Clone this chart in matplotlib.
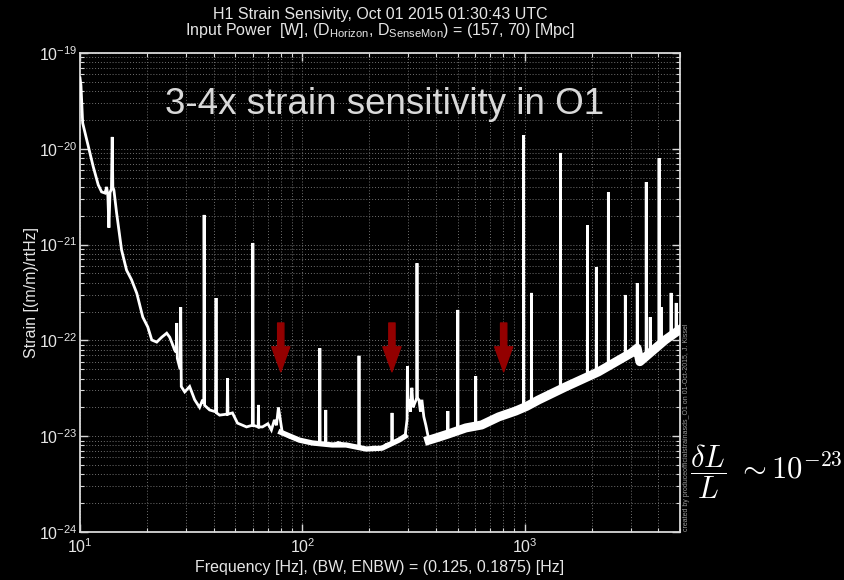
import matplotlib
matplotlib.use("Agg")
import matplotlib.pyplot as plt
from matplotlib.ticker import LogLocator, LogFormatterSciNotation, NullFormatter

plt.rcParams['font.family'] = ['Liberation Sans', 'DejaVu Sans']
plt.rcParams['mathtext.fontset'] = 'custom'
plt.rcParams['mathtext.rm'] = 'Liberation Sans'
plt.rcParams['mathtext.it'] = 'Liberation Sans:italic'
plt.rcParams['mathtext.bf'] = 'Liberation Sans:bold'

# ---------------- data ----------------
freq = [10.0, 10.1, 10.28, 10.72, 11.47, 12.08, 12.51, 12.95, 13.18, 13.35, 13.49,
        13.65, 13.85, 13.96, 14.05, 14.21, 14.61, 15.38, 16.2, 17.05, 18.01, 19.16,
        20.18, 21.03, 22.14, 23.32, 24.55, 25.32, 26.12, 26.67, 27.1, 27.23, 27.4,
        28.2, 28.38, 28.55, 29.58, 31.13, 32.8, 34.51, 35.6, 36.05, 36.17, 36.35,
        38.28, 40.7, 40.93, 41.15, 42.45, 45.9, 46.1, 46.3, 48.5, 51.1, 56.1,
        59.6, 59.9, 60.2, 63.3, 63.5, 63.7, 66.2, 70.0, 72.6, 74.9, 76.5, 78.1,
        81.3, 87.4, 97.0, 110.9, 119.5, 119.9, 120.3, 127.2, 127.5, 127.8, 136.3,
        145.0, 157.4, 179.6, 179.9, 180.3, 193.6, 210.0, 228.4, 238.0, 252.8,
        253.3, 253.8, 272.0, 290.0, 296.0, 297.0, 299.0, 302.0, 306.0, 311.0,
        315.0, 320.0, 327.5, 328.0, 328.8, 334.7, 340.0, 345.0, 352.0, 359.6,
        371.0, 400.0, 451.0, 451.6, 452.2, 499.0, 500.6, 502.0, 543.8, 601.5,
        602.6, 603.7, 641.0, 764.0, 911.0, 988.0, 990.0, 992.0, 1021.0, 1072.0,
        1074.0, 1076.0, 1155.0, 1447.0, 1450.0, 1453.0, 1527.0, 1914.0, 1917.0,
        1920.0, 2099.0, 2102.0, 2105.0, 2148.0, 2377.0, 2381.0, 2385.0, 2834.0,
        2838.0, 2842.0, 3020.0, 3207.0, 3212.0, 3217.0, 3300.0, 3520.0, 3525.0,
        3530.0, 3668.0, 3673.0, 3678.0, 4020.0, 4027.0, 4034.0, 4105.0, 4111.0,
        4117.0, 4285.0, 4555.0, 4560.0, 4565.0, 4800.0, 4807.0, 4814.0, 5000.0]
strain = [5.5e-20, 4.6e-20, 1.86e-20, 1.24e-20, 6.5e-21, 4.2e-21, 3.55e-21, 3.45e-21, 4.0e-21, 3.2e-21, 1.5e-21,
          3.5e-21, 3.8e-21, 1.33e-20, 4.0e-21, 3.7e-21, 2.14e-21, 8.8e-22, 5.4e-22, 4.3e-22, 3.1e-22, 1.75e-22,
          1.38e-22, 1.01e-22, 9.6e-23, 1.08e-22, 1.19e-22, 1.08e-22, 9.0e-23, 7.9e-23, 7.5e-23, 1.52e-22, 6.5e-23,
          5.0e-23, 2.23e-22, 3.3e-23, 2.9e-23, 3.3e-23, 2.4e-23, 2.0e-23, 2.4e-23, 2.2e-23, 2.04e-21, 2.1e-23,
          1.88e-23, 1.8e-23, 2.77e-22, 1.75e-23, 1.66e-23, 1.7e-23, 4.05e-23, 1.7e-23, 1.75e-23, 1.37e-23, 1.25e-23,
          1.3e-23, 1.04e-21, 1.3e-23, 1.25e-23, 2.12e-23, 1.25e-23, 1.25e-23, 1.35e-23, 1.16e-23, 1.48e-23, 1.3e-23, 2.0e-23,
          1.08e-23, 9.8e-24, 9.1e-24, 8.5e-24, 8.4e-24, 8.3e-23, 8.4e-24, 8.3e-24, 1.88e-23, 8.3e-24, 8.1e-24,
          8.6e-24, 8.1e-24, 7.8e-24, 6.9e-23, 7.8e-24, 7.35e-24, 7.7e-24, 7.5e-24, 8.2e-24, 8.5e-24,
          1.75e-23, 8.5e-24, 9.1e-24, 1.0e-23, 1.5e-23, 5.4e-23, 2.2e-23, 2.4e-23, 1.8e-23, 3.2e-23,
          2.0e-23, 2.2e-23, 2.5e-23, 6.4e-22, 2.5e-23, 2.4e-23, 1.8e-23, 2.4e-23, 1.6e-23, 1.3e-23,
          9.1e-24, 9.6e-24, 1.05e-23, 1.83e-23, 1.05e-23, 1.15e-23, 2.08e-22, 1.15e-23, 1.22e-23, 1.28e-23,
          4.25e-23, 1.28e-23, 1.31e-23, 1.59e-23, 1.83e-23, 1.95e-23, 1.39e-20, 1.95e-23, 2.05e-23, 2.15e-23,
          3.13e-22, 2.15e-23, 2.39e-23, 3.0e-23, 9.05e-21, 3.0e-23, 3.27e-23, 4.1e-23, 1.6e-21,
          4.1e-23, 4.6e-23, 5.84e-22, 4.6e-23, 4.7e-23, 5.3e-23, 3.54e-21, 5.3e-23, 6.6e-23,
          2.98e-22, 6.6e-23, 7.4e-23, 8.3e-23, 3.97e-22, 8.3e-23, 6.0e-23, 6.8e-23, 4.5e-21,
          6.8e-23, 7.3e-23, 1.75e-22, 7.3e-23, 8.6e-23, 8.0e-21, 8.6e-23, 8.9e-23, 2.23e-22,
          8.9e-23, 1.01e-22, 1.08e-22, 3.13e-22, 1.08e-22, 1.15e-22, 2.46e-22, 1.15e-22, 1.3e-22]

# smooth noise floor (no lines) used to draw the thick noisy band
floor_low_freq = [80.0, 97.0, 110.9, 136.3, 157.4, 193.6, 228.4, 272.0, 290.0]
floor_low_strain = [1.1e-23, 9.1e-24, 8.5e-24, 8.1e-24, 8.1e-24, 7.35e-24, 7.5e-24, 9.1e-24, 1.0e-23]
floor_high_freq = [371.0, 400.0, 451.0, 543.8, 641.0, 764.0, 911.0, 1021.0, 1155.0,
                   1527.0, 2148.0, 3020.0, 3207.0, 3300.0, 4285.0, 5000.0]
floor_high_strain = [9.1e-24, 9.6e-24, 1.05e-23, 1.22e-23, 1.31e-23, 1.59e-23, 1.83e-23, 2.05e-23, 2.39e-23,
                     3.27e-23, 4.7e-23, 7.4e-23, 8.3e-23, 6.0e-23, 1.01e-22, 1.3e-22]

arrow_freq = [80.0, 253.0, 805.0]
arrow_top = 1.52e-22
arrow_tip = 4.7e-23

title_lines = ["H1 Strain Sensivity, Oct 01 2015 01:30:43 UTC",
               r"Input Power  [W], (D$_{\rm Horizon}$, D$_{\rm SenseMon}$) = (157, 70) [Mpc]"]
xlabel = "Frequency [Hz], (BW, ENBW) = (0.125, 0.1875) [Hz]"
ylabel = "Strain [(m/m)/rtHz]"
headline = "3-4x strain sensitivity in O1"
credit = "created by produceofficialstrainasds_O1 on 01-Oct-2015, J. Kissel"
formula = r"$\dfrac{\delta L}{L}\ \sim 10^{-23}$"

# ---------------- figure ----------------
W, H = 844, 580
fig = plt.figure(figsize=(W / 100, H / 100), dpi=100, facecolor='black')
ax = fig.add_axes([80 / W, (H - 532) / H, 600 / W, 479 / H], facecolor='black')

ax.set_xscale('log')
ax.set_yscale('log')
ax.set_xlim(10, 5000)
ax.set_ylim(1e-24, 1e-19)

grid_col = '#707070'
ax.grid(True, which='both', color=grid_col, linestyle=(0, (1, 2)), linewidth=0.7)
ax.set_axisbelow(True)

ax.plot(freq, strain, color='white', lw=2.0, solid_joinstyle='miter', zorder=3)
ax.plot(floor_low_freq, floor_low_strain, color='white', lw=3.8, zorder=3)
ax.plot(floor_high_freq, floor_high_strain, color='white', lw=6.5, zorder=3)

for f in arrow_freq:
    ax.annotate('', xy=(f, arrow_tip), xytext=(f, arrow_top),
                arrowprops=dict(arrowstyle='simple,head_width=1.3,head_length=1.8,tail_width=0.45',
                                color='#930000', shrinkA=0, shrinkB=0, mutation_scale=10),
                zorder=4)

for side in ['left', 'right', 'top', 'bottom']:
    ax.spines[side].set_color('#d8d8d8')
    ax.spines[side].set_linewidth(1.3)

ax.xaxis.set_major_locator(LogLocator(base=10, numticks=10))
ax.xaxis.set_minor_locator(LogLocator(base=10, subs=range(2, 10), numticks=20))
ax.yaxis.set_major_locator(LogLocator(base=10, numticks=10))
ax.yaxis.set_minor_locator(LogLocator(base=10, subs=range(2, 10), numticks=20))
ax.xaxis.set_major_formatter(LogFormatterSciNotation())
ax.yaxis.set_major_formatter(LogFormatterSciNotation())
ax.xaxis.set_minor_formatter(NullFormatter())
ax.yaxis.set_minor_formatter(NullFormatter())
ax.tick_params(which='both', direction='in', top=True, right=True, colors='#d8d8d8',
               labelcolor='#e6e6e6')
ax.tick_params(which='major', length=6, width=1, labelsize=11.5, pad=4)
ax.tick_params(which='minor', length=3, width=0.8)
ax.tick_params(axis='y', which='major', pad=2)

ax.set_title(title_lines[0] + "\n" + title_lines[1], color='#e6e6e6', fontsize=11.5,
             pad=13, linespacing=0.95)
ax.set_xlabel(xlabel, color='#e6e6e6', fontsize=11.5, labelpad=3)
ax.set_ylabel(ylabel, color='#e6e6e6', fontsize=11.5, labelpad=0)

ax.text(0.507, 0.893, headline, transform=ax.transAxes, ha='center', va='center',
        fontsize=26.5, color='#d9d9d9', zorder=5)

fig.text(683 / W, 1 - 531 / H, credit, rotation=90, ha='left', va='bottom',
         fontsize=5.0, color='#9a9a9a')

fig.text(690 / W, 1 - 472 / H, formula, ha='left', va='center', fontsize=22,
         color='white', math_fontfamily='cm')

fig.savefig('out.png', dpi=100, facecolor='black')
